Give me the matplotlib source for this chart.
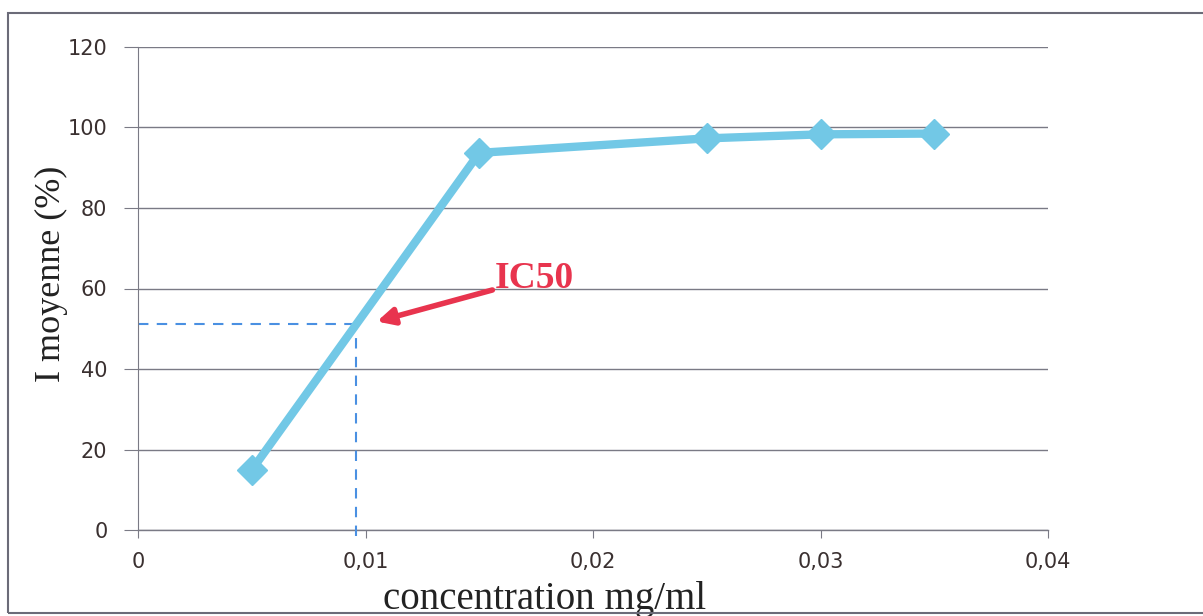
import matplotlib.pyplot as plt
from matplotlib.patches import Rectangle

# data
conc = [0.005, 0.015, 0.025, 0.03, 0.035]
inhib = [14.9, 93.7, 97.3, 98.3, 98.5]
ic50_x = 0.0096
ic50_y = 51.2
xticks = [0, 0.01, 0.02, 0.03, 0.04]
xticklabels = ["0", "0,01", "0,02", "0,03", "0,04"]
yticks = [0, 20, 40, 60, 80, 100, 120]

fig = plt.figure(figsize=(12.03, 6.16), dpi=100)
ax = fig.add_axes([138/1203, 1-530/616, 910/1203, 483/616])

# outer frame of the chart
fig.patches.append(Rectangle((8/1203, 1-613/616), 1.2, 600/616, transform=fig.transFigure,
                             fill=False, edgecolor="#6b6b78", linewidth=1.5))

gc = "#7a7a85"
ax.set_xlim(0, 0.04)
ax.set_ylim(0, 120)
ax.set_yticks(yticks)
ax.set_xticks(xticks)
ax.set_xticklabels(xticklabels)
ax.grid(axis="y", color=gc, linewidth=1.0)
ax.set_axisbelow(True)
for s in ["top", "right", "bottom"]:
    ax.spines[s].set_visible(False)
ax.spines["left"].set_color(gc)
ax.axhline(0, color=gc, linewidth=1.0, zorder=1, clip_on=False)
ax.tick_params(axis="y", length=10, color=gc, labelsize=15, labelcolor="#3a3030", pad=12)
ax.tick_params(axis="x", length=6, color=gc, labelsize=15, labelcolor="#3a3030", pad=10)

# dashed guide lines for IC50
ax.plot([0, ic50_x], [ic50_y, ic50_y], color="#4a90e2", linestyle=(0, (5, 4)), linewidth=1.5, zorder=2)
ax.plot([ic50_x, ic50_x], [-1.5, ic50_y], color="#4a90e2", linestyle=(0, (5, 4)), linewidth=1.5,
        zorder=2, clip_on=False)

ax.plot(conc, inhib, color="#72c8e6", linewidth=6, marker="D", markersize=15, zorder=3)

ax.annotate("IC50", xy=(0.0105, 51.8), xytext=(0.0157, 62.5), color="#e8344e",
            fontsize=27, fontweight="bold", family="Liberation Serif", va="center",
            arrowprops=dict(arrowstyle="-|>", color="#e8344e", lw=4, mutation_scale=25,
                            shrinkA=0, shrinkB=0))

ax.set_xlabel("concentration mg/ml", family="Liberation Serif", fontsize=28, color="#222")
ax.xaxis.set_label_coords(0.447, -0.105)
ax.set_ylabel("I moyenne (%)", family="Liberation Serif", fontsize=26, color="#222")
ax.yaxis.set_label_coords(-0.077, 0.53)

plt.savefig("out.png", dpi=100)
